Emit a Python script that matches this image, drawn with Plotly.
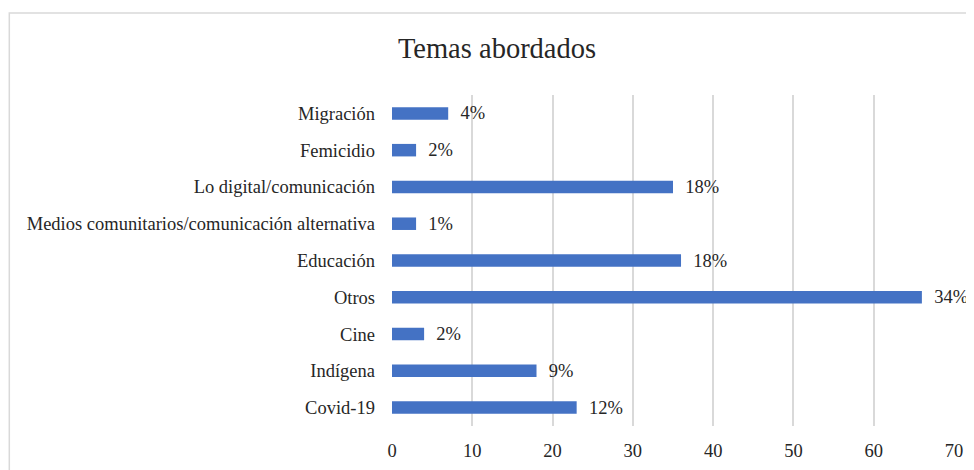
import plotly.graph_objects as go

categories = ["Covid-19", "Indígena", "Cine", "Otros", "Educación",
              "Medios comunitarios/comunicación alternativa",
              "Lo digital/comunicación", "Femicidio", "Migración"]
values = [23, 18, 4, 66, 36, 3, 35, 3, 7]
percent_labels = ["12%", "9%", "2%", "34%", "18%", "1%", "18%", "2%", "4%"]
x_ticks = [0, 10, 20, 30, 40, 50, 60, 70]

FONT = "'Liberation Serif', 'Times New Roman', serif"
FS = 18.5

# page has an 8px body margin, so work in offset coordinates
OFF = 8
W, H = 974 - OFF, 470 - OFF
L = 391.7 - OFF
R = W - (954 - OFF)
T = 95 - OFF
B = H - (425.75 - OFF)
pw, ph = W - L - R, H - T - B


def px_x(x):
    return (x - OFF - L) / pw


def px_y(y):
    return (H - B - (y - OFF)) / ph


fig = go.Figure(go.Bar(
    y=categories, x=values, orientation="h",
    marker=dict(color="#4472C4", line=dict(width=0)),
    text=["\u00a0\u00a0" + t for t in percent_labels],
    textposition="outside", cliponaxis=False,
    textfont=dict(family=FONT, size=FS, color="#262626"),
    constraintext="none",
))

fig.add_shape(type="rect", xref="paper", yref="paper",
              x0=px_x(8.8), x1=px_x(990), y0=px_y(490), y1=px_y(13),
              line=dict(color="#d9d9d9", width=1.5), fillcolor="rgba(0,0,0,0)",
              layer="below")

fig.update_layout(
    width=W, height=H,
    margin=dict(l=L, r=R, t=T, b=B, autoexpand=False),
    paper_bgcolor="white", plot_bgcolor="white",
    bargap=0.66,
    showlegend=False,
    title=dict(text="Temas abordados", x=(497 - OFF) / W, xanchor="center",
               y=1 - (48 - OFF) / H, yanchor="middle",
               font=dict(family=FONT, size=28.5, color="#262626")),
    font=dict(family=FONT, size=FS, color="#262626"),
)
fig.update_xaxes(range=[0, 70], tickvals=x_ticks, showgrid=True,
                 gridcolor="#d9d9d9", gridwidth=1.5, zeroline=False,
                 showline=False, ticks="", ticklabelstandoff=11,
                 tickfont=dict(family=FONT, size=FS, color="#262626"))
fig.update_yaxes(showgrid=False, zeroline=False, showline=False, ticks="",
                 ticklabelstandoff=16,
                 tickfont=dict(family=FONT, size=FS, color="#262626"))

fig.write_html("out.html")
